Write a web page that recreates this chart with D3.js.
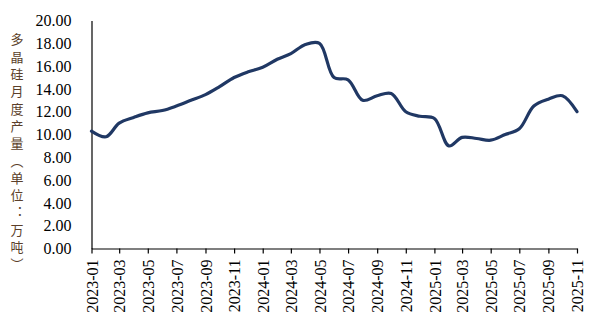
<!DOCTYPE html>
<html><head><meta charset="utf-8">
<script src="https://cdn.jsdelivr.net/npm/d3@7"></script>
<style>
html,body{margin:0;padding:0;background:#fff;}
svg{display:block;}
</style></head>
<body>
<svg id="chart" width="599" height="332"></svg>
<script>
const months = ["2023-01","2023-02","2023-03","2023-04","2023-05","2023-06","2023-07","2023-08","2023-09","2023-10","2023-11","2023-12",
"2024-01","2024-02","2024-03","2024-04","2024-05","2024-06","2024-07","2024-08","2024-09","2024-10","2024-11","2024-12",
"2025-01","2025-02","2025-03","2025-04","2025-05","2025-06","2025-07","2025-08","2025-09","2025-10","2025-11"];
const production = [10.3,9.8,11.0,11.5,11.9,12.1,12.5,13.0,13.5,14.2,15.0,15.5,
15.9,16.6,17.1,17.9,18.0,15.0,14.8,13.0,13.4,13.6,12.0,11.6,
11.4,9.0,9.75,9.65,9.5,10.0,10.5,12.5,13.1,13.4,12.0];
const yTicks = [0,2,4,6,8,10,12,14,16,18,20];
const yTitle = "多晶硅月度产量（单位：万吨）";

(function(){
const parse = d3.timeParse("%Y-%m");
const fmt = d3.timeFormat("%Y-%m");
const data = months.map((m,i)=>({date:parse(m), v:production[i]}));

const svg = d3.select("#chart");
const mLeft = 91.5, mRight = 577, mTop = 20.5, mBottom = 248.5;

const x = d3.scaleTime().domain([parse("2023-01"), parse("2025-11")]).range([mLeft, mRight]);
const y = d3.scaleLinear().domain([0,20]).range([mBottom, mTop]);

const xTickDates = months.filter((m,i)=>i%2===0).map(parse);

const gx = svg.append("g").attr("transform", `translate(0,${mBottom})`)
  .call(d3.axisBottom(x).tickValues(xTickDates).tickFormat(fmt).tickSize(5).tickSizeOuter(0));
gx.select(".domain").attr("stroke","#000").attr("stroke-width",1.2);
gx.selectAll(".tick line").attr("stroke","#000").attr("stroke-width",1.2);
gx.selectAll(".tick text")
  .attr("font-family","'Liberation Serif','Times New Roman',serif")
  .attr("font-size",16).attr("fill","#000")
  .attr("transform","rotate(-90)")
  .attr("text-anchor","end")
  .attr("x",-11).attr("y",0).attr("dy","0.35em");

const gy = svg.append("g").attr("transform", `translate(${mLeft},0)`)
  .call(d3.axisLeft(y).tickValues(yTicks).tickFormat(d3.format(".2f")).tickSize(0).tickPadding(20).tickSizeOuter(0));
gy.select(".domain").attr("stroke","#000").attr("stroke-width",1.2);
gy.selectAll(".tick text")
  .attr("font-family","'Liberation Serif','Times New Roman',serif")
  .attr("font-size",16).attr("fill","#000");

const line = d3.line().x(d=>x(d.date)).y(d=>y(d.v)).curve(d3.curveCatmullRom.alpha(0.5));
svg.append("path").datum(data).attr("d", line)
  .attr("fill","none").attr("stroke","#203864").attr("stroke-width",3.2)
  .attr("stroke-linejoin","round").attr("stroke-linecap","round");

svg.append("text")
  .attr("x",17).attr("y",33)
  .attr("writing-mode","vertical-rl")
  .attr("font-family","'Noto Sans CJK SC',sans-serif")
  .attr("font-size",13).attr("letter-spacing",4.3)
  .attr("fill","#5b3f2a")
  .text(yTitle);
})();
</script>
</body></html>
